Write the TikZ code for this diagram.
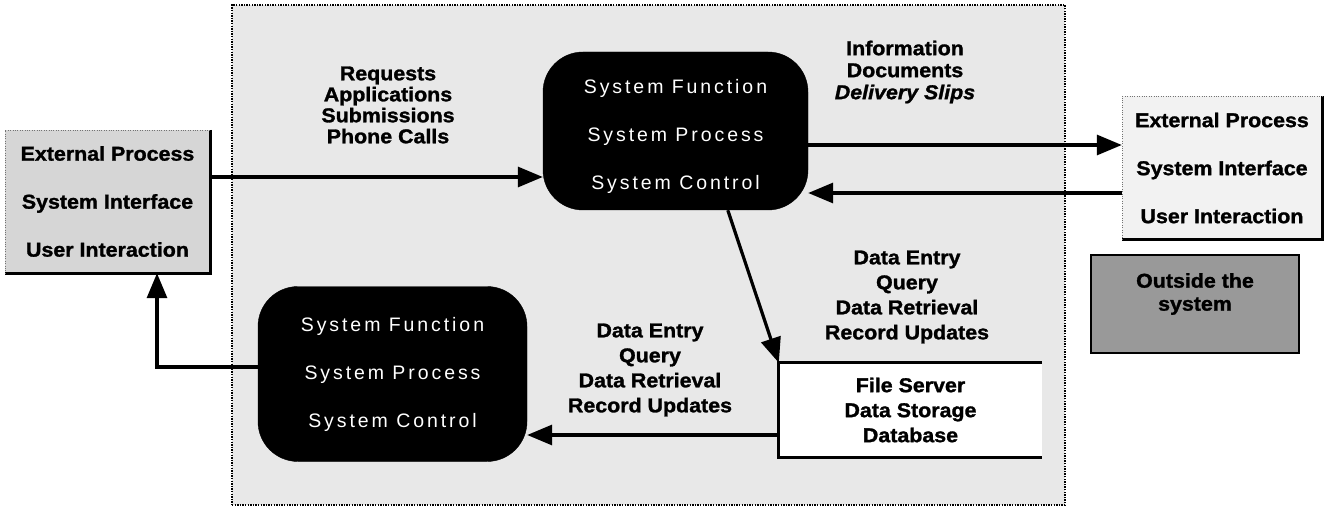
\documentclass[tikz,border=0pt]{standalone}
\usepackage{fontspec}
\setmainfont{Liberation Sans}
\newfontfamily\lblfont{Liberation Sans Bold}[FakeStretch=1.07,FakeBold=1.4]
\newfontfamily\lblitfont{Liberation Sans Bold Italic}[FakeStretch=1.07,FakeBold=1.4]
\newfontfamily\boxfont{Liberation Sans}[LetterSpace=15]
\usetikzlibrary{arrows.meta,calc}
\begin{document}
\begin{tikzpicture}[x=1pt,y=-1pt,
  flow/.style={line width=3.2pt,-{Triangle[length=25pt,width=20pt]}},
  lbl/.style={font={\lblfont\fontsize{20}{22}\selectfont},align=center,inner sep=0pt},
  blackbox/.style={fill=black,draw=black,rounded corners=40pt,text=white,align=center,inner sep=0pt,
     font={\boxfont\fontsize{19.5}{48}\selectfont}},
  extbox/.style={inner sep=0pt,align=center,font={\lblfont\fontsize{20}{48}\selectfont}},
  heavy/.style={line width=3pt}]
\useasboundingbox (0,0) rectangle (1325,513);
% system boundary
\node[draw=black,dash pattern=on 1.4pt off 1.2pt,line width=2.6pt,fill=black!9,
      minimum width=833pt,minimum height=500pt,inner sep=0pt] (sys) at (648.5,255) {};
% external boxes
\node[extbox,fill=black!16,minimum width=205pt,minimum height=143pt] (lb) at (107.5,201.5)
  {External Process\\System Interface\\User Interaction};
\draw[heavy] (lb.north east) -- (lb.south east) -- (lb.south west);
\draw[dotted,black!55] (lb.south west) -- (lb.north west) -- (lb.north east);
\node[extbox,fill=black!5,minimum width=200pt,minimum height=143pt] (rb) at (1222,168)
  {External Process\\System Interface\\User Interaction};
\draw[heavy] (rb.north east) -- (rb.south east) -- (rb.south west);
\draw[dotted,black!55] (rb.south west) -- (rb.north west) -- (rb.north east);
% outside the system legend
\node[draw=black,line width=2.8pt,fill=black!40,minimum width=208pt,minimum height=98pt] (ob) at (1195,304) {};
\node[lbl,font={\lblfont\fontsize{20}{23}\selectfont}] (obt) at (1195,294) {Outside the\\system};
% process boxes
\node[blackbox,minimum width=265pt,minimum height=158pt] (tp) at (675.5,131)
  {\rule{0pt}{26pt}System Function\\System Process\\System Control};
\node[blackbox,minimum width=269pt,minimum height=175pt] (bp) at (392.5,374)
  {System Function\\System Process\\System Control};
% data store
\node[fill=white,inner sep=0pt,minimum width=263pt,minimum height=94pt,align=center,
      font={\lblfont\fontsize{20}{25}\selectfont}] (ds) at (910.5,410)
  {File Server\\Data Storage\\Database};
\draw[heavy] (ds.north east) -- (ds.north west) -- (ds.south west) -- (ds.south east);
% labels
\node[lbl,font={\lblfont\fontsize{20}{21}\selectfont}] (l1) at (388,105)
  {Requests\\Applications\\Submissions\\Phone Calls};
\node[lbl] (l2) at (905,72) {Information\\Documents\\{\lblitfont Delivery Slips}};
\node[lbl,font={\lblfont\fontsize{20}{25}\selectfont}] (l3) at (907,297)
  {Data Entry\\Query\\Data Retrieval\\Record Updates};
\node[lbl,font={\lblfont\fontsize{20}{25}\selectfont}] (l4) at (650,370)
  {Data Entry\\Query\\Data Retrieval\\Record Updates};
% connectors
\coordinate (ya) at (0,177);
\coordinate (yb) at (0,145);
\coordinate (yc) at (0,193);
\coordinate (yd) at (0,435);
\coordinate (ce) at (157,367);
\draw[flow] (lb.east|-ya) -- (tp.west|-ya);
\draw[flow] (tp.east|-yb) -- (rb.west|-yb);
\draw[flow] (rb.west|-yc) -- (tp.east|-yc);
\draw[flow] ($(tp.south west)!0.697!(tp.south east)$) -- (ds.north west);
\draw[flow] (ds.west|-yd) -- (bp.east|-yd);
\draw[flow] (bp.west|-ce) -- (ce) -- (ce|-lb.south);
\end{tikzpicture}
\end{document}
